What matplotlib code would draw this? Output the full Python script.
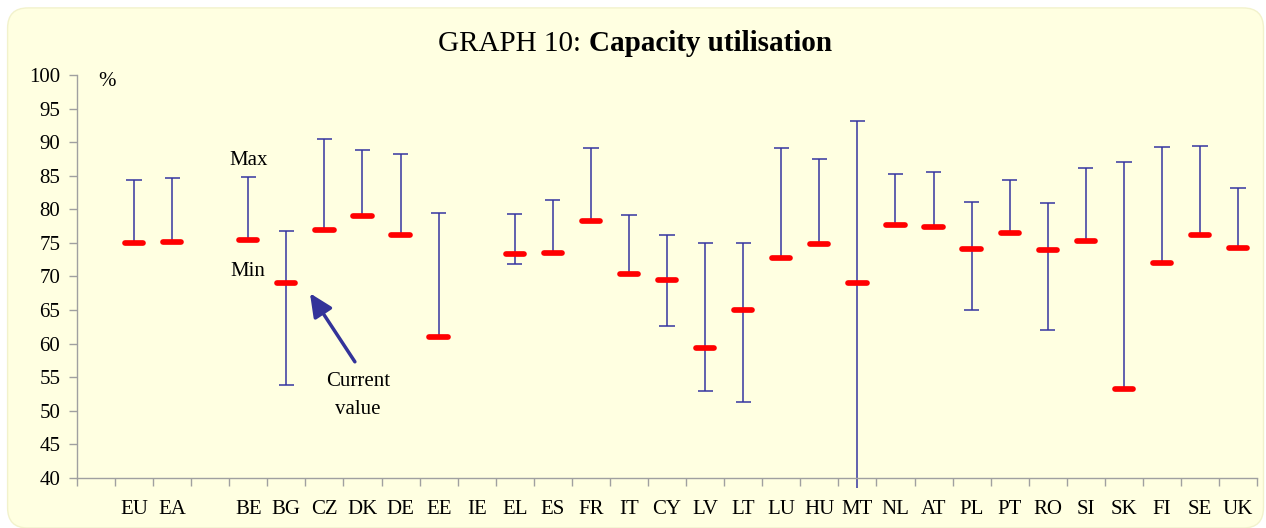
import matplotlib.pyplot as plt
from matplotlib.patches import FancyBboxPatch

plt.rcParams['font.family'] = ['Liberation Serif', 'DejaVu Serif']

# Dados (slots vazios = '')
paises = ['', 'EU', 'EA', '', 'BE', 'BG', 'CZ', 'DK', 'DE', 'EE', 'IE', 'EL', 'ES', 'FR',
          'IT', 'CY', 'LV', 'LT', 'LU', 'HU', 'MT', 'NL', 'AT', 'PL', 'PT', 'RO', 'SI',
          'SK', 'FI', 'SE', 'UK']

atual = [None, 75.0, 75.1, None, 75.4, 69.0, 76.9, 79.0, 76.2, 61.0, None, 73.4, 73.5, 78.2,
         70.4, 69.5, 59.3, 65.0, 72.7, 74.9, 69.1, 77.6, 77.3, 74.1, 76.5, 74.0, 75.3,
         53.3, 72.0, 76.2, 74.3]
maximo = [None, 84.3, 84.6, None, 84.8, 76.8, 90.4, 88.9, 88.2, 79.4, None, 79.3, 81.4, 89.1,
          79.1, 76.2, 75.0, 75.0, 89.2, 87.5, 93.2, 85.2, 85.5, 81.1, 84.3, 80.9, 86.2,
          87.1, 89.3, 89.5, 83.1]
minimo = [None, 75.0, 75.1, None, 75.4, 53.8, 76.9, 79.0, 76.2, 61.0, None, 71.9, 73.5, 78.2,
          70.4, 62.7, 53.0, 51.3, 72.7, 74.9, 38.5, 77.6, 77.3, 65.0, 76.5, 62.1, 75.3,
          53.3, 72.0, 76.2, 74.3]

fig = plt.figure(figsize=(12.66, 5.28), dpi=100)
fig.patch.set_facecolor('white')
fundo = FancyBboxPatch((0.006, 0.0), 0.992, 0.985, boxstyle='round,pad=0,rounding_size=0.016',
                       transform=fig.transFigure, facecolor='#FFFFE1', edgecolor='#F2F2CC',
                       linewidth=1, mutation_aspect=12.66 / 5.28, zorder=-10)
fig.patches.append(fundo)

ax = fig.add_axes([0.0608, 0.0947, 0.9322, 0.7633])
ax.set_facecolor('none')

azul = '#3535A0'
idx = [i for i, v in enumerate(atual) if v is not None]
xs = idx
lo = [minimo[i] for i in idx]
hi = [maximo[i] for i in idx]
cur = [atual[i] for i in idx]

ax.vlines(xs, lo, hi, colors=azul, linewidth=1.1, clip_on=False, zorder=2)
ax.hlines(hi, [x - 0.2 for x in xs], [x + 0.2 for x in xs], colors=azul, linewidth=1.1, zorder=2)
xs_min = [x for x, v in zip(xs, lo) if v >= 40]
lo_min = [v for v in lo if v >= 40]
ax.hlines(lo_min, [x - 0.2 for x in xs_min], [x + 0.2 for x in xs_min], colors=azul,
          linewidth=1.1, zorder=2)
ax.hlines(cur, [x - 0.24 for x in xs], [x + 0.24 for x in xs], colors='#FF0000',
          linewidth=4.1, capstyle='round', zorder=3)

ax.set_xlim(-0.5, len(paises) - 0.5)
ax.set_ylim(40, 100)
ax.set_yticks(range(40, 101, 5))
ax.set_xticks(range(len(paises)))
ax.set_xticklabels(paises)
ax.set_xticks([i - 0.5 for i in range(len(paises) + 1)], minor=True)
ax.tick_params(axis='x', which='major', length=0, pad=16, labelsize=15)
ax.tick_params(axis='x', which='minor', length=6, color='#A0A0A0', width=1)
ax.tick_params(axis='y', length=6, color='#A0A0A0', width=1, pad=6, labelsize=15)

for s in ['top', 'right']:
    ax.spines[s].set_visible(False)
for s in ['left', 'bottom']:
    ax.spines[s].set_color('#A0A0A0')
    ax.spines[s].set_linewidth(1)

fig.text(0.465, 0.917, 'GRAPH 10: ', ha='right', va='center', fontsize=21)
fig.text(0.465, 0.917, 'Capacity utilisation', ha='left', va='center', fontsize=21,
         fontweight='bold')

ax.text(0.3, 99, '%', fontsize=15, ha='center', va='center')
ax.text(4.0, 87.3, 'Max', fontsize=15, ha='center', va='center')
ax.text(4.0, 70.8, 'Min', fontsize=15, ha='center', va='center')
ax.text(6.88, 52.3, 'Current\nvalue', fontsize=15, ha='center', va='center', linespacing=1.65)
ax.annotate('', xy=(5.62, 67.5), xytext=(6.8, 57.3),
            arrowprops=dict(arrowstyle='-|>,head_length=1.4,head_width=0.65',
                            color='#333399', lw=2.5, shrinkA=0, shrinkB=0))

fig.savefig('out.png', dpi=100)
